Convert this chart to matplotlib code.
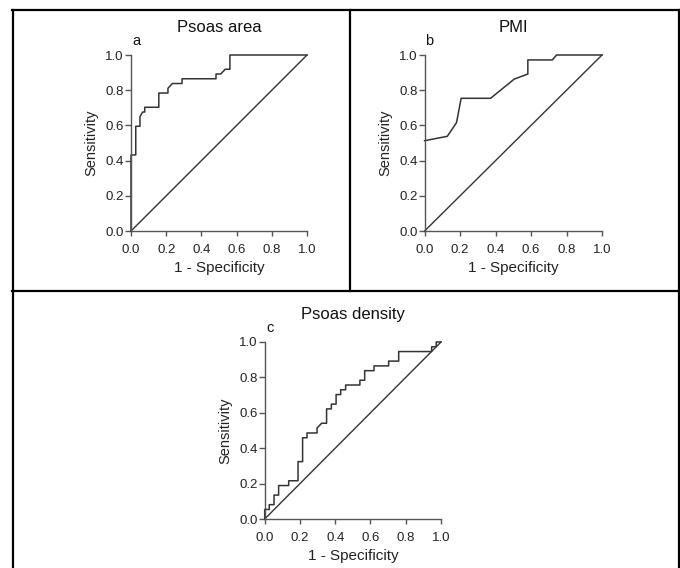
import matplotlib
matplotlib.use("Agg")
import matplotlib.pyplot as plt
from matplotlib.lines import Line2D

plt.rcParams['font.family'] = ['Liberation Sans', 'DejaVu Sans']

# ROC curves (1 - specificity, sensitivity)
area_fpr = [0, 0, 0.027, 0.027, 0.051, 0.051, 0.066, 0.078, 0.078, 0.158, 0.158, 0.21, 0.21, 0.235,
            0.29, 0.29, 0.483, 0.483, 0.51, 0.535, 0.562, 0.562, 1.0]
area_tpr = [0, 0.432, 0.432, 0.595, 0.595, 0.649, 0.676, 0.676, 0.703, 0.703, 0.784, 0.784, 0.811, 0.838,
            0.838, 0.865, 0.865, 0.892, 0.892, 0.919, 0.919, 1.0, 1.0]

pmi_fpr = [0, 0.128, 0.18, 0.206, 0.372, 0.505, 0.582, 0.582, 0.72, 0.744, 1.0]
pmi_tpr = [0.513, 0.538, 0.616, 0.754, 0.754, 0.863, 0.892, 0.972, 0.972, 1.0, 1.0]

dens_fpr = [0, 0, 0.026, 0.026, 0.053, 0.053, 0.079, 0.079, 0.136, 0.136, 0.189, 0.189, 0.215, 0.215,
            0.24, 0.24, 0.297, 0.297, 0.323, 0.351, 0.351, 0.378, 0.378, 0.405, 0.405, 0.431, 0.431,
            0.459, 0.459, 0.54, 0.54, 0.567, 0.567, 0.62, 0.62, 0.703, 0.703, 0.76, 0.76, 0.947, 0.947,
            0.973, 0.973, 1.0]
dens_tpr = [0, 0.054, 0.054, 0.081, 0.081, 0.135, 0.135, 0.189, 0.189, 0.216, 0.216, 0.324, 0.324, 0.459,
            0.459, 0.486, 0.486, 0.514, 0.541, 0.541, 0.622, 0.622, 0.649, 0.649, 0.703, 0.703, 0.730,
            0.730, 0.757, 0.757, 0.784, 0.784, 0.838, 0.838, 0.865, 0.865, 0.892, 0.892, 0.946, 0.946,
            0.973, 0.973, 1.0, 1.0]

titles = ['Psoas area', 'PMI', 'Psoas density']
letters = ['a', 'b', 'c']
ticks = [0.0, 0.2, 0.4, 0.6, 0.8, 1.0]

W, H = 680, 568
fig = plt.figure(figsize=(6.8, 5.68), dpi=100)

# axes boxes in pixels: left, top, right, bottom
boxes = [(131, 55, 307, 231), (424.6, 55, 602, 231), (264.7, 342, 441, 519)]
curves = [(area_fpr, area_tpr), (pmi_fpr, pmi_tpr), (dens_fpr, dens_tpr)]

col = '#333333'
for (l, t, r, b), (fx, ty), title, letter in zip(boxes, curves, titles, letters):
    ax = fig.add_axes([l / W, 1 - b / H, (r - l) / W, (b - t) / H])
    ax.plot(fx, ty, color=col, lw=1.1, clip_on=False)
    ax.plot([0, 1], [0, 1], color=col, lw=1.0, clip_on=False)
    ax.set_xlim(0, 1)
    ax.set_ylim(0, 1)
    ax.set_xticks(ticks)
    ax.set_yticks(ticks)
    ax.set_xticklabels(['%.1f' % v for v in ticks])
    ax.set_yticklabels(['%.1f' % v for v in ticks])
    for s in ['top', 'right']:
        ax.spines[s].set_visible(False)
    for s in ['left', 'bottom']:
        ax.spines[s].set_color('#555555')
        ax.spines[s].set_linewidth(1.0)
    ax.tick_params(direction='out', width=1.0, color='#555555',
                   labelsize=9.5, labelcolor='#222222')
    ax.tick_params(axis='x', length=3.6, pad=5.8)
    ax.tick_params(axis='y', length=4.0, pad=1.2)
    ax.set_xlabel('1 - Specificity', fontsize=11, color='#222222', labelpad=3.5)
    ax.set_ylabel('Sensitivity', fontsize=10.5, color='#222222', labelpad=5)
    cx = (l + r) / 2
    fig.text(cx / W, 1 - (t - 28) / H, title, ha='center', va='center',
             fontsize=12, color='#111111')
    fig.text((l + 5) / W, 1 - (t - 14) / H, letter, ha='center', va='center',
             fontsize=10.5, color='#111111')

# panel frame lines
lw = 1.6
fig.add_artist(Line2D([12 / W, 679 / W], [1 - 9.5 / H, 1 - 9.5 / H], color='black', lw=lw))
fig.add_artist(Line2D([12.5 / W, 12.5 / W], [0, 1 - 9.5 / H], color='black', lw=lw))
fig.add_artist(Line2D([678.5 / W, 678.5 / W], [0, 1 - 9.5 / H], color='black', lw=lw))
fig.add_artist(Line2D([350.5 / W, 350.5 / W], [1 - 291 / H, 1 - 9.5 / H], color='black', lw=lw))
fig.add_artist(Line2D([12 / W, 679 / W], [1 - 291 / H, 1 - 291 / H], color='black', lw=lw))

fig.savefig('out.png', dpi=100)
